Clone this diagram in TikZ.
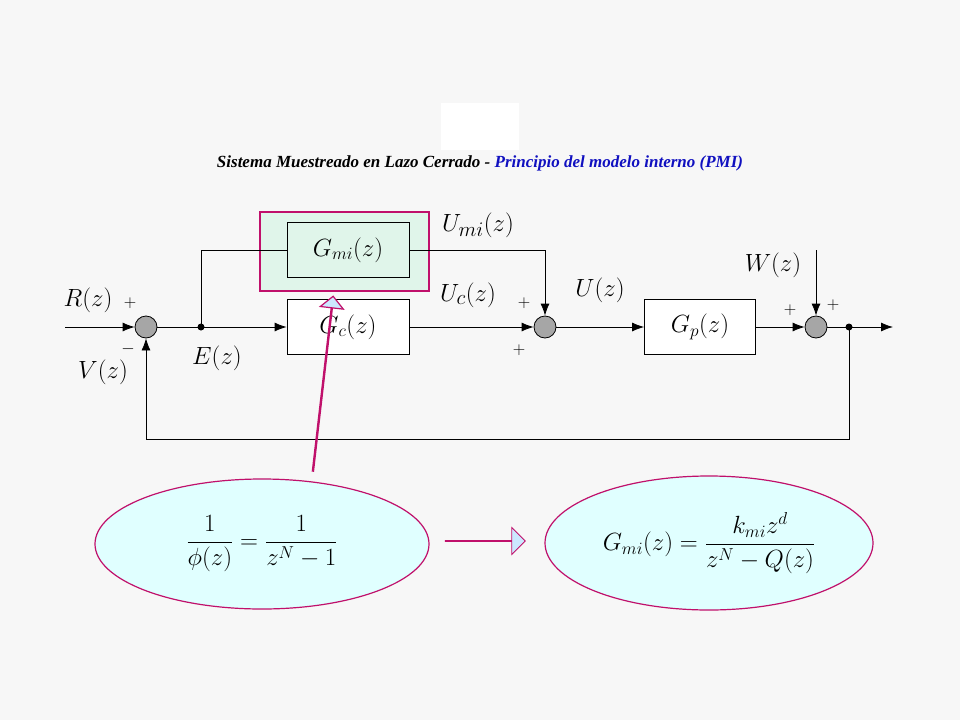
\documentclass[tikz,border=0pt]{standalone}
\usepackage{amsmath}
\usepackage{fontspec}
\setmainfont{Liberation Serif}
\usetikzlibrary{arrows.meta,shapes.arrows,shapes.geometric}
\definecolor{pmired}{HTML}{C0106B}
\definecolor{pmigreen}{HTML}{E0F5EA}
\definecolor{pmicyan}{HTML}{E0FFFF}
\definecolor{pmiblue}{HTML}{CCE8FF}
\definecolor{titleblue}{HTML}{1010C0}

\begin{document}
\begin{tikzpicture}[x=1pt, y=-1pt,
    block/.style={draw, thick, fill=white, minimum width=122pt, minimum height=55pt, font=\fontsize{24}{26}\selectfont},
    sumnode/.style={circle, draw, thick, fill=gray!70, minimum size=22pt, inner sep=0pt},
    signal/.style={thick, -{Latex[length=12pt,width=9pt]}},
    lbl/.style={font=\fontsize{28}{30}\selectfont},
    sgn/.style={font=\fontsize{18}{20}\selectfont},
    eqnode/.style={ellipse, draw=pmired, very thick, fill=pmicyan, font=\fontsize{24}{26}\selectfont}]
    % Background
    \fill[white!97!black] (0,0) rectangle (960,720);
    \fill[white] (441,103) rectangle (519,150);
    % Title
    \node (title) at (480,163) {\fontsize{17}{19}\selectfont\bfseries\itshape Sistema Muestreado en Lazo Cerrado - \textcolor{titleblue}{Principio del modelo interno (PMI)}};
    % Internal model frame
    \draw[pmired, very thick, fill=pmigreen] (260,212) rectangle (429,291);
    % Blocks
    \node[block, fill=pmigreen, minimum height=55pt] (gmi) at (348,250) {$G_{mi}(z)$};
    \node[block] (gc) at (348,327) {$G_c(z)$};
    \node[block, minimum width=111pt] (gp) at (700,327) {$G_p(z)$};
    % Summing junctions
    \node[sumnode] (sumr) at (146,327) {};
    \node[sumnode] (sumu) at (545,327) {};
    \node[sumnode] (sumw) at (816,327) {};
    \coordinate (rin) at (65,327);
    \coordinate (ebr) at (201,327);
    \coordinate (ybr) at (849,327);
    \coordinate (yout) at (893,327);
    \coordinate (win) at (816,250);
    \fill (ebr) circle (3.5pt);
    \fill (ybr) circle (3.5pt);
    % Signal paths
    \draw[signal] (rin) -- (sumr);
    \draw[thick] (sumr) -- (ebr);
    \draw[signal] (ebr) -- (gc);
    \draw[thick] (ebr) |- (gmi);
    \draw[signal] (gmi) -| (sumu);
    \draw[signal] (gc) -- (sumu);
    \draw[signal] (sumu) -- (gp);
    \draw[signal] (gp) -- (sumw);
    \draw[signal] (win) -- (sumw);
    \draw[thick] (sumw) -- (ybr);
    \draw[signal] (ybr) -- (yout);
    \draw[signal] (ybr) -- (849,439) -| (sumr);
    % Labels
    \node[lbl] (rlab) at (88,300) {$R(z)$};
    \node[sgn] (rsgn) at (130,303) {$+$};
    \node[lbl] (vlab) at (103,372) {$V(z)$};
    \node[sgn] (vsgn) at (128,349) {$-$};
    \node[lbl] (elab) at (217,358) {$E(z)$};
    \node[lbl] (umilab) at (478,225) {$U_{mi}(z)$};
    \node[lbl] (uclab) at (468,295) {$U_c(z)$};
    \node[sgn] (ucsgn) at (524,303) {$+$};
    \node[sgn] (umisgn) at (519,350) {$+$};
    \node[lbl] (ulab) at (600,290) {$U(z)$};
    \node[lbl] (wlab) at (773,265) {$W(z)$};
    \node[sgn] (gpsgn) at (790,310) {$+$};
    \node[sgn] (wsgn) at (833,305) {$+$};
    % Pointer arrow
    \node[single arrow, draw=pmired, very thick, fill=pmiblue, rotate=83.4,
          minimum width=22pt, single arrow head extend=11pt,
          single arrow head indent=0pt, minimum height=176pt, inner sep=0pt] (ptr) at (323,384) {};
    % Equations
    \node[eqnode, minimum width=334pt, minimum height=130pt] (phieq) at (262,544)
        {$\dfrac{1}{\phi(z)} = \dfrac{1}{z^{N}-1}$};
    \node[single arrow, draw=pmired, thick, fill=pmiblue, minimum width=27pt,
          single arrow head extend=10pt, minimum height=80pt, inner sep=0pt] (imp) at (485,541) {};
    \node[eqnode, minimum width=328pt, minimum height=134pt] (gmieq) at (709,543)
        {$G_{mi}(z) = \dfrac{k_{mi}z^{d}}{z^{N}-Q(z)}$};
\end{tikzpicture}
\end{document}
